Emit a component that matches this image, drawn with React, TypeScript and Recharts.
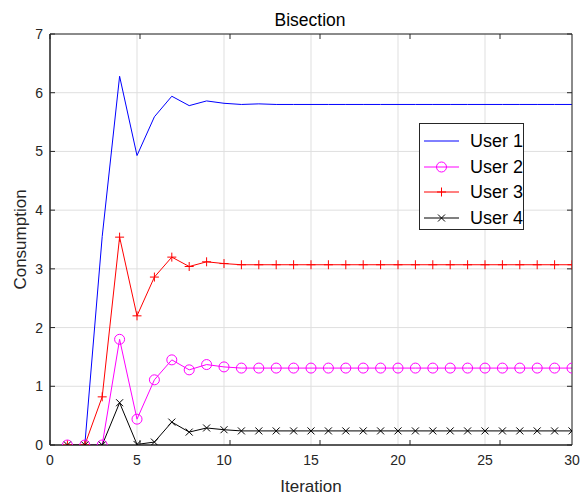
import { CartesianGrid, Line, LineChart, XAxis, YAxis } from "recharts";
import type { ReactNode } from "react";

const iterations = [1, 2, 3, 4, 5, 6, 7, 8, 9, 10, 11, 12, 13, 14, 15, 16, 17, 18, 19, 20, 21, 22, 23, 24, 25, 26, 27, 28, 29, 30];

const user1 = [0, 0, 3.55, 6.28, 4.93, 5.59, 5.94, 5.78, 5.86, 5.82, 5.8, 5.81, 5.8, 5.8, 5.8, 5.8, 5.8, 5.8, 5.8, 5.8, 5.8, 5.8, 5.8, 5.8, 5.8, 5.8, 5.8, 5.8, 5.8, 5.8];
const user2 = [0, 0, 0, 1.8, 0.44, 1.11, 1.45, 1.28, 1.37, 1.33, 1.31, 1.31, 1.31, 1.31, 1.31, 1.31, 1.31, 1.31, 1.31, 1.31, 1.31, 1.31, 1.31, 1.31, 1.31, 1.31, 1.31, 1.31, 1.31, 1.31];
const user3 = [0, 0, 0.82, 3.54, 2.2, 2.86, 3.2, 3.04, 3.12, 3.09, 3.07, 3.07, 3.07, 3.07, 3.07, 3.07, 3.07, 3.07, 3.07, 3.07, 3.07, 3.07, 3.07, 3.07, 3.07, 3.07, 3.07, 3.07, 3.07, 3.07];
const user4 = [0, 0, 0, 0.72, 0.01, 0.05, 0.39, 0.22, 0.29, 0.26, 0.24, 0.24, 0.24, 0.24, 0.24, 0.24, 0.24, 0.24, 0.24, 0.24, 0.24, 0.24, 0.24, 0.24, 0.24, 0.24, 0.24, 0.24, 0.24, 0.24];

const xTicks = [0, 5, 10, 15, 20, 25, 30];
const yTicks = [0, 1, 2, 3, 4, 5, 6, 7];

type Marker = "none" | "circle" | "plus" | "cross";

const series: { key: string; name: string; color: string; marker: Marker }[] = [
  { key: "user1", name: "User 1", color: "#0000ff", marker: "none" },
  { key: "user2", name: "User 2", color: "#ff00ff", marker: "circle" },
  { key: "user3", name: "User 3", color: "#ff0000", marker: "plus" },
  { key: "user4", name: "User 4", color: "#000000", marker: "cross" },
];

const data = iterations.map((iteration, i) => ({
  iteration,
  user1: user1[i],
  user2: user2[i],
  user3: user3[i],
  user4: user4[i],
}));

const ink = "#262626";
const gridColor = "#dfdfdf";
const font = '"Liberation Sans", Arial, sans-serif';

function markerShape(marker: Marker, cx: number, cy: number, color: string, key?: string): ReactNode {
  if (marker === "circle") {
    return <circle key={key} cx={cx} cy={cy} r={5} fill="none" stroke={color} strokeWidth={1} />;
  }
  if (marker === "plus") {
    return (
      <path key={key} d={`M${cx - 4.5},${cy}H${cx + 4.5}M${cx},${cy - 4.5}V${cy + 4.5}`} stroke={color} strokeWidth={1} fill="none" />
    );
  }
  if (marker === "cross") {
    return (
      <path
        key={key}
        d={`M${cx - 3.5},${cy - 3.5}L${cx + 3.5},${cy + 3.5}M${cx - 3.5},${cy + 3.5}L${cx + 3.5},${cy - 3.5}`}
        stroke={color}
        strokeWidth={1}
        fill="none"
      />
    );
  }
  return <g key={key} />;
}

function LegendBox() {
  return (
    <div
      style={{
        position: "absolute",
        left: 419,
        top: 123,
        width: 105,
        height: 107,
        border: `1px solid ${ink}`,
        background: "#fff",
        paddingTop: 4,
        boxSizing: "border-box",
      }}
    >
      {series.map((s) => (
        <div key={s.key} style={{ display: "flex", alignItems: "center", height: 25.7 }}>
          <svg width={46} height={20} style={{ marginLeft: 4 }}>
            <line x1={0} x2={35} y1={10} y2={10} stroke={s.color} strokeWidth={1} />
            {markerShape(s.marker, 17.5, 10, s.color)}
          </svg>
          <span style={{ fontSize: 18, color: "#000", lineHeight: "20px" }}>{s.name}</span>
        </div>
      ))}
    </div>
  );
}

export default function App() {
  return (
    <div style={{ position: "absolute", left: 0, top: 0, width: 582, height: 497, fontFamily: font, background: "#fff" }}>
      <div
        style={{
          position: "absolute",
          left: 50,
          width: 520,
          top: 11,
          textAlign: "center",
          fontSize: 17.5,
          lineHeight: "18px",
          color: "#000",
        }}
      >
        Bisection
      </div>
      <LineChart width={582} height={497} data={data} margin={{ top: 34, right: 10, bottom: 0, left: 0 }}>
        <CartesianGrid stroke={gridColor} horizontalValues={yTicks} verticalValues={xTicks} />
        <XAxis
          dataKey="iteration"
          type="number"
          domain={[0, 30]}
          ticks={xTicks}
          allowDataOverflow
          height={52}
          tickLine={false}
          tickSize={0}
          tickMargin={10}
          stroke={ink}
          tick={{ fill: ink, fontSize: 14, fontFamily: font }}
          label={{ value: "Iteration", position: "insideBottom", offset: 5, fill: ink, fontSize: 17, fontFamily: font }}
        />
        <YAxis
          type="number"
          domain={[0, 7]}
          ticks={yTicks}
          allowDataOverflow
          width={50}
          tickLine={false}
          tickSize={0}
          tickMargin={7}
          stroke={ink}
          tick={{ fill: ink, fontSize: 14, fontFamily: font }}
          label={{
            content: (props: any) => {
              const vb = props.viewBox ?? { x: 0, y: 34, width: 50, height: 411 };
              const cx = vb.x + 20;
              const cy = vb.y + vb.height / 2;
              return (
                <text
                  x={cx}
                  y={cy}
                  transform={`rotate(-90 ${cx} ${cy})`}
                  textAnchor="middle"
                  dominantBaseline="central"
                  fill={ink}
                  fontSize={17}
                  fontFamily={font}
                >
                  Consumption
                </text>
              );
            },
          }}
        />
        <XAxis xAxisId="bottomIn" type="number" domain={[0, 30]} ticks={xTicks} allowDataOverflow orientation="bottom" mirror tickSize={5} stroke={ink} tickFormatter={() => ""} />
        <XAxis xAxisId="topIn" type="number" domain={[0, 30]} ticks={xTicks} allowDataOverflow orientation="top" mirror tickSize={5} stroke={ink} tickFormatter={() => ""} />
        <YAxis yAxisId="leftIn" type="number" domain={[0, 7]} ticks={yTicks} allowDataOverflow orientation="left" mirror tickSize={5} stroke={ink} tickFormatter={() => ""} />
        <YAxis yAxisId="rightIn" type="number" domain={[0, 7]} ticks={yTicks} allowDataOverflow orientation="right" mirror tickSize={5} stroke={ink} tickFormatter={() => ""} />
        {series.map((s) => (
          <Line
            key={s.key}
            dataKey={s.key}
            name={s.name}
            type="linear"
            stroke={s.color}
            strokeWidth={1}
            isAnimationActive={false}
            activeDot={false}
            dot={
              s.marker === "none"
                ? false
                : (p: any) => markerShape(s.marker, p.cx, p.cy, s.color, `${s.key}-${p.index}`)
            }
          />
        ))}
      </LineChart>
      <LegendBox />
    </div>
  );
}
